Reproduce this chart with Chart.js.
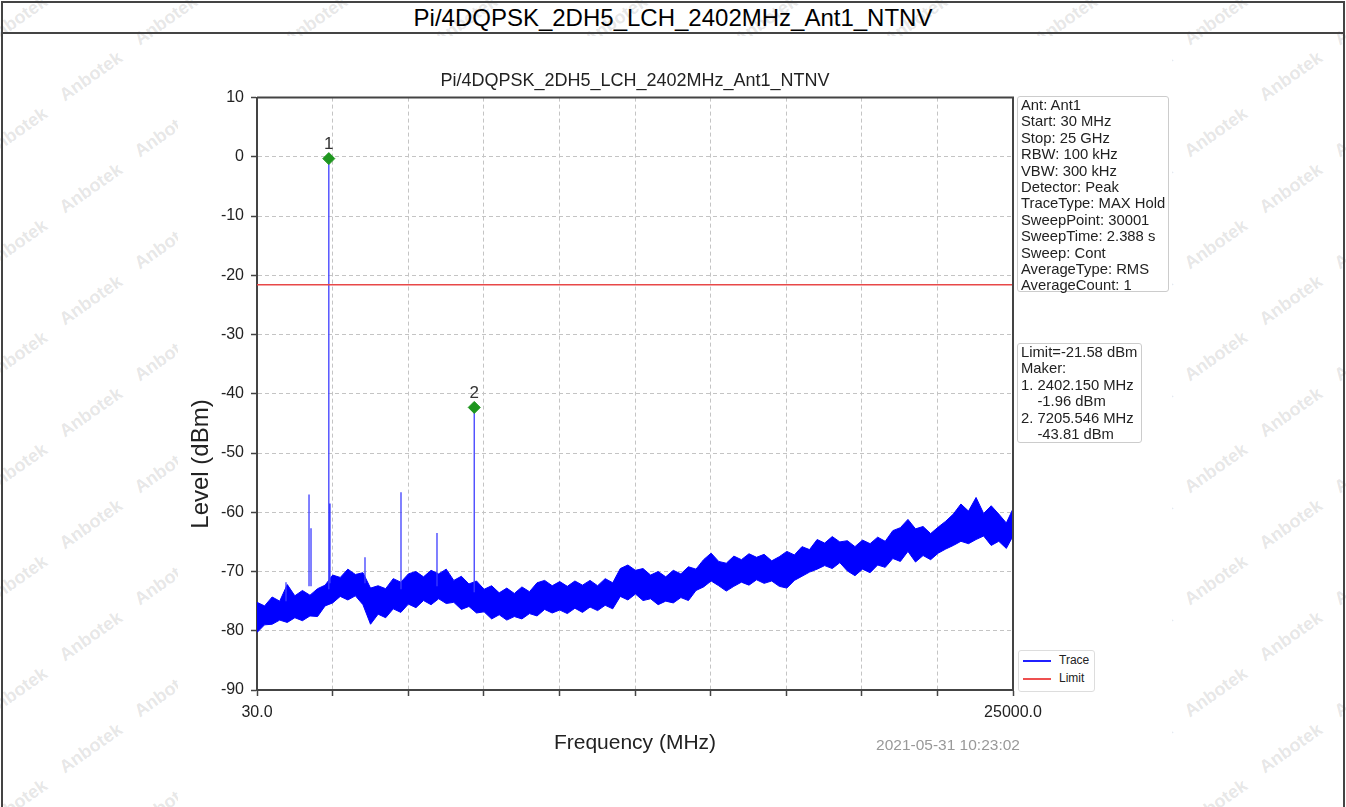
<!DOCTYPE html>
<html lang="en">
<head>
<meta charset="UTF-8">
<title>Pi/4DQPSK_2DH5_LCH_2402MHz_Ant1_NTNV</title>
<script src="https://cdn.jsdelivr.net/npm/chart.js"></script>
<style>
  body { margin: 0; background: #fff; font-family: "Liberation Sans", Arial, sans-serif; }
  #page { position: relative; width: 1346px; height: 807px; overflow: hidden; }
  #frame { position: absolute; left: 1px; top: 1px; width: 1340px; height: 840px; border: 2px solid #444; z-index: 3; pointer-events: none; }
  #divider { position: absolute; left: 1px; top: 32px; width: 1344px; border-top: 2px solid #444; z-index: 3; }
  #head { position: absolute; left: 0; top: 3px; width: 1346px; height: 30px; line-height: 30px; text-align: center; font-size: 24px; color: #000; z-index: 2; }
  .wm { position: absolute; font-size: 18px; font-weight: bold; color: rgba(150,150,150,0.24); transform: rotate(-35deg); z-index: 0; white-space: nowrap; }
  #fig { position: absolute; left: 178px; top: 36px; width: 994px; height: 771px; background: #fff; z-index: 1; }
  #chart { position: absolute; left: 0; top: 0; z-index: 2; }
  .box { position: absolute; border: 1px solid #ccc; border-radius: 3px; background: #fff; font-size: 14.8px; line-height: 16.4px; color: #222; white-space: pre; z-index: 2; padding: 0 3px; }
  .leg { position: absolute; border: 1px solid #ddd; border-radius: 3px; background: #fff; font-size: 12px; color: #222; z-index: 2; }
  .leg div { position: relative; height: 18px; line-height: 18px; padding-left: 40px; }
  .leg span { position: absolute; left: 4px; top: 9px; width: 28px; border-top: 2px solid; }
  #stamp { position: absolute; left: 848px; top: 736px; width: 200px; text-align: center; font-size: 15.5px; color: #999; z-index: 2; }
</style>
</head>
<body>
<div id="page">
  <div id="frame"></div>
  <div id="divider"></div>
  <div id="head">Pi/4DQPSK_2DH5_LCH_2402MHz_Ant1_NTNV</div>
  <div id="fig"></div>
  <canvas id="chart" width="1346" height="807"></canvas>

  <div class="box" style="left:1017px;top:96px;width:144px;height:194px;">Ant: Ant1
Start: 30 MHz
Stop: 25 GHz
RBW: 100 kHz
VBW: 300 kHz
Detector: Peak
TraceType: MAX Hold
SweepPoint: 30001
SweepTime: 2.388 s
Sweep: Cont
AverageType: RMS
AverageCount: 1</div>

  <div class="box" style="left:1017px;top:343px;width:117px;height:98px;">Limit=-21.58 dBm
Maker:
1. 2402.150 MHz
    -1.96 dBm
2. 7205.546 MHz
    -43.81 dBm</div>

  <div class="leg" style="left:1018px;top:650px;width:75px;height:40px;">
    <div><span style="border-color:#2020ff"></span>Trace</div>
    <div><span style="border-color:#ee5050"></span>Limit</div>
  </div>

  <div id="stamp">2021-05-31 10:23:02</div>
</div>

<script>
  // noise floor of the trace, upper and lower edge (MHz, dBm)
  const envFreq = [30, 280, 530, 780, 1030, 1280, 1530, 1780, 2030, 2280,
    2530, 2780, 3030, 3280, 3530, 3780, 4030, 4280, 4530, 4780,
    5030, 5280, 5530, 5780, 6030, 6280, 6530, 6780, 7030, 7280,
    7530, 7780, 8030, 8280, 8530, 8780, 9030, 9280, 9530, 9780,
    10030, 10280, 10530, 10780, 11030, 11280, 11530, 11780, 12030, 12280,
    12530, 12780, 13030, 13280, 13530, 13780, 14030, 14280, 14530, 14780,
    15030, 15280, 15530, 15780, 16030, 16280, 16530, 16780, 17030, 17280,
    17530, 17780, 18030, 18280, 18530, 18780, 19030, 19280, 19530, 19780,
    20030, 20280, 20530, 20780, 21030, 21280, 21530, 21780, 22030, 22280,
    22530, 22780, 23030, 23280, 23530, 23780, 24030, 24280, 24530, 24780, 25000];
  const envTop = [-75.2, -75.8, -74.3, -75.0, -72.2, -74.1, -73.2, -74.0, -72.9, -72.3,
    -70.6, -71.0, -69.6, -70.5, -70.2, -72.8, -72.4, -72.9, -71.2, -71.8,
    -70.4, -70.0, -70.9, -69.8, -70.4, -69.6, -71.5, -70.8, -72.1, -71.6,
    -73.0, -72.4, -73.6, -72.8, -73.7, -72.6, -73.4, -71.9, -71.5, -72.4,
    -71.7, -72.5, -71.6, -72.3, -71.5, -72.4, -71.2, -71.9, -69.5, -68.9,
    -69.8, -69.5, -70.6, -70.0, -70.9, -69.8, -70.4, -69.2, -69.6, -68.0,
    -66.9, -68.3, -68.6, -67.4, -68.0, -67.0, -67.6, -67.1, -68.2, -67.5,
    -66.6, -67.2, -65.8, -66.3, -64.6, -65.2, -64.1, -65.0, -64.8, -65.8,
    -64.7, -65.3, -64.2, -64.9, -63.1, -62.6, -61.2, -62.8, -62.4, -63.6,
    -62.5, -61.5, -60.3, -58.6, -59.8, -57.5, -60.2, -58.9, -60.3, -61.8, -59.4];
  const envBot = [-80.3, -79.0, -78.9, -78.2, -78.6, -77.8, -78.3, -77.5, -77.6, -75.8,
    -75.3, -74.2, -74.8, -74.1, -75.6, -78.9, -77.2, -77.8, -76.3, -76.9,
    -75.5, -76.1, -74.9, -75.6, -74.6, -75.4, -75.2, -76.4, -75.9, -77.0,
    -76.8, -78.0, -77.3, -78.2, -77.6, -78.0, -77.1, -77.5, -76.4, -77.0,
    -76.5, -77.1, -76.2, -76.9, -76.0, -76.6, -75.7, -76.3, -74.2, -74.8,
    -73.8, -74.9, -74.6, -75.6, -75.0, -75.3, -74.4, -74.9, -73.2, -72.6,
    -71.6, -72.4, -73.3, -72.5, -71.8, -72.3, -71.4, -72.0, -71.6, -72.5,
    -72.8, -71.5, -70.8, -70.1, -69.6, -69.0, -69.5, -68.5, -69.9, -70.7,
    -69.6, -70.2, -68.9, -69.3, -67.8, -68.3, -66.6, -68.4, -67.3, -68.0,
    -66.9, -66.2, -65.6, -64.9, -65.3, -64.6, -64.0, -65.6, -64.9, -66.1, -64.0];

  // narrow spurs rising out of the floor
  const spikeFreq = [988, 1748, 1814, 2402, 2441, 3597, 4786, 5975, 7205];
  const spikeTop = [-71.8, -57.0, -62.7, -0.3, -58.5, -67.6, -56.6, -63.5, -42.4];
  const spikeBase = [-75.0, -72.5, -72.5, -73.0, -72.0, -72.0, -73.0, -72.5, -73.5];

  const markerNames = ['1', '2'];
  const markerFreq = [2402.15, 7205.546];
  const markerLevel = [-0.3, -42.3];

  const limitLevel = -21.58;
  const xMin = 30, xMax = 25000;
  const xTickValues = [30, 2527, 5024, 7521, 10018, 12515, 15012, 17509, 20006, 22503, 25000];
  const xTickLabels = ['30.0', '', '', '', '', '', '', '', '', '', '25000.0'];

  // watermark text behind the figure
  const page = document.getElementById('page');
  for (let r = 0; r < 15; r++) {
    for (let c = 0; c < 10; c++) {
      const d = document.createElement('div');
      d.className = 'wm';
      d.textContent = 'Anbotek';
      d.style.left = (-20 + c * 150 + (r % 2) * 75) + 'px';
      d.style.top = (10 + r * 56) + 'px';
      page.appendChild(d);
    }
  }

  const spikeData = [];
  spikeFreq.forEach((f, i) => {
    spikeData.push({ x: f, y: spikeBase[i] }, { x: f, y: spikeTop[i] }, { x: f, y: null });
  });

  const font = '"Liberation Sans", Arial, sans-serif';

  const extras = {
    id: 'extras',
    afterDatasetsDraw(chart) {
      const { ctx, chartArea: a, scales: { x, y } } = chart;
      ctx.save();
      ctx.strokeStyle = '#444';
      ctx.lineWidth = 2;
      ctx.beginPath();
      ctx.moveTo(a.left, a.top);
      ctx.lineTo(a.right, a.top);
      ctx.lineTo(a.right, a.bottom);
      ctx.stroke();
      ctx.fillStyle = '#333';
      ctx.font = '17px ' + font;
      ctx.textAlign = 'center';
      ctx.textBaseline = 'bottom';
      markerFreq.forEach((f, i) => {
        ctx.fillText(markerNames[i], x.getPixelForValue(f), y.getPixelForValue(markerLevel[i]) - 6);
      });
      // y axis title sits a little below the middle, as in the source plot
      ctx.translate(201, 464);
      ctx.rotate(-Math.PI / 2);
      ctx.fillStyle = '#222';
      ctx.font = '24px ' + font;
      ctx.textBaseline = 'middle';
      ctx.fillText('Level (dBm)', 0, 0);
      ctx.restore();
    }
  };

  const ctx = document.getElementById('chart').getContext('2d');
  new Chart(ctx, {
    type: 'line',
    data: {
      datasets: [
        {
          label: 'Marker',
          data: markerFreq.map((f, i) => ({ x: f, y: markerLevel[i] })),
          showLine: false,
          pointStyle: 'rectRot',
          pointRadius: 6,
          backgroundColor: 'rgb(30,150,30)',
          borderColor: 'rgb(30,150,30)'
        },
        {
          label: 'Limit',
          data: [{ x: xMin, y: limitLevel }, { x: xMax, y: limitLevel }],
          borderColor: 'rgb(232,72,72)',
          borderWidth: 1.6,
          pointRadius: 0
        },
        {
          label: 'Spurs',
          data: spikeData,
          borderColor: 'rgb(60,60,255)',
          borderWidth: 1.3,
          pointRadius: 0,
          spanGaps: false
        },
        {
          label: 'Trace',
          data: envFreq.map((f, i) => ({ x: f, y: envTop[i] })),
          borderColor: 'rgb(0,0,255)',
          backgroundColor: 'rgb(0,0,255)',
          borderWidth: 1,
          pointRadius: 0,
          fill: '+1'
        },
        {
          label: 'TraceLow',
          data: envFreq.map((f, i) => ({ x: f, y: envBot[i] })),
          borderColor: 'rgb(0,0,255)',
          borderWidth: 1,
          pointRadius: 0,
          fill: false
        }
      ]
    },
    options: {
      responsive: false,
      animation: false,
      layout: { padding: { left: 184, right: 333, top: 64, bottom: 47 } },
      plugins: {
        legend: { display: false },
        tooltip: { enabled: false },
        title: {
          display: true,
          fullSize: false,
          text: 'Pi/4DQPSK_2DH5_LCH_2402MHz_Ant1_NTNV',
          color: '#222',
          font: { family: font, size: 18, weight: 'normal' },
          padding: { top: 6, bottom: 6 }
        }
      },
      scales: {
        x: {
          type: 'linear',
          min: xMin,
          max: xMax,
          afterBuildTicks: s => { s.ticks = xTickValues.map(v => ({ value: v })); },
          afterFit: s => { s.height = 70; },
          ticks: {
            autoSkip: false,
            maxRotation: 0,
            padding: 7,
            color: '#222',
            font: { family: font, size: 16 },
            callback: (v, i) => xTickLabels[i]
          },
          grid: { color: '#c4c4c4', lineWidth: 1, tickLength: 6, tickColor: '#444', tickWidth: 1.5, tickBorderDash: [] },
          border: { color: '#444', width: 2, dash: [4, 3] },
          title: { display: true, text: 'Frequency (MHz)', color: '#222', font: { family: font, size: 21 } }
        },
        y: {
          min: -90,
          max: 10,
          afterFit: s => { s.width = 257 - 184; },
          ticks: { stepSize: 10, padding: 7, color: '#222', font: { family: font, size: 16 } },
          grid: { color: '#c4c4c4', lineWidth: 1, tickLength: 6, tickColor: '#444', tickWidth: 1.5, tickBorderDash: [] },
          border: { color: '#444', width: 2, dash: [4, 3] }
        }
      }
    },
    plugins: [extras]
  });
</script>
</body>
</html>
